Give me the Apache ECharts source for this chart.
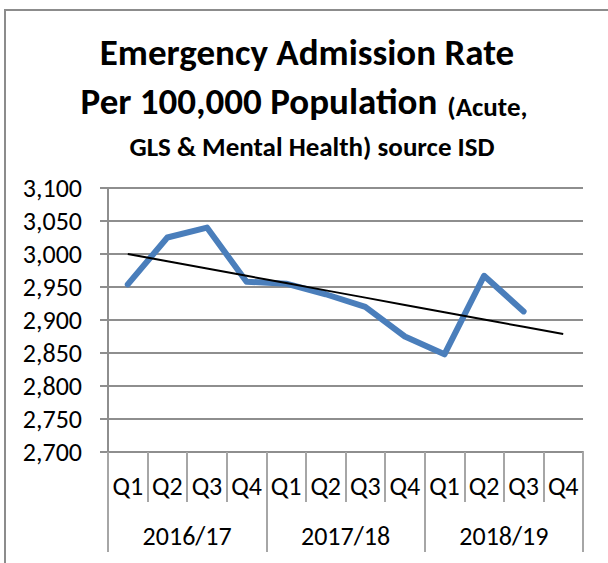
<!DOCTYPE html>
<html>
<head>
<meta charset="utf-8">
<script src="https://cdn.jsdelivr.net/npm/echarts@6/dist/echarts.min.js"></script>
<style>
  html, body { margin: 0; padding: 0; background: #fff; }
  #chart { width: 608px; height: 563px; }
</style>
</head>
<body>
<div id="chart"></div>
<script>
// data
var quarters = ['Q1', 'Q2', 'Q3', 'Q4', 'Q1', 'Q2', 'Q3', 'Q4', 'Q1', 'Q2', 'Q3', 'Q4'];
var years = ['2016/17', '2017/18', '2018/19'];
var rates = [2954, 3025, 3040, 2958, 2955, 2939, 2920, 2875, 2848, 2967, 2913, null];
var yMin = 2700, yMax = 3100, yStep = 50;

var font = "Carlito, 'Liberation Sans Narrow', 'Open Sans', sans-serif";
var gridColor = '#8e8e8e';
var tickColor = '#a6a6a6';

// linear trendline (least squares), like Excel's, over all categories
function linearTrend(values) {
  var n = 0, sx = 0, sy = 0, sxy = 0, sxx = 0;
  values.forEach(function (v, i) {
    if (v == null) return;
    n++; sx += i; sy += v; sxy += i * v; sxx += i * i;
  });
  var slope = (n * sxy - sx * sy) / (n * sxx - sx * sx);
  var icpt = (sy - slope * sx) / n;
  return values.map(function (v, i) { return +(icpt + slope * i).toFixed(1); });
}
var trend = linearTrend(rates);

var chart = echarts.init(document.getElementById('chart'), null, { renderer: 'svg' });

var option = {
  animation: false,
  backgroundColor: '#fff',
  graphic: [
    {
      type: 'rect', silent: true, z: -10,
      shape: { x: 5, y: 10, width: 700, height: 700 },
      style: { fill: 'none', stroke: '#8c8c8c', lineWidth: 2 }
    },
    {
      type: 'text', x: 307, y: 52,
      style: {
        text: 'Emergency Admission Rate',
        fontFamily: font, fontWeight: 'bold', fontSize: 37, fill: '#000',
        align: 'center', verticalAlign: 'middle'
      }
    },
    {
      type: 'text', x: 304, y: 100,
      style: {
        text: '{a|Per 100,000 Population}{b|(Acute,}',
        align: 'center', verticalAlign: 'middle',
        rich: {
          a: { fontFamily: font, fontWeight: 'bold', fontSize: 37, fill: '#000', align: 'center', verticalAlign: 'bottom', lineHeight: 40 },
          b: { fontFamily: font, fontWeight: 'bold', fontSize: 27, fill: '#000', align: 'center', verticalAlign: 'bottom', lineHeight: 31, padding: [0, 0, 0, 10] }
        }
      }
    },
    {
      type: 'text', x: 312, y: 146,
      style: {
        text: 'GLS & Mental Health) source ISD',
        fontFamily: font, fontWeight: 'bold', fontSize: 27, fill: '#000',
        align: 'center', verticalAlign: 'middle'
      }
    }
  ],
  grid: { left: 108, right: 25, top: 188, bottom: 111, containLabel: false, outerBoundsMode: 'none' },
  xAxis: [
    {
      type: 'category', data: quarters, position: 'bottom',
      axisLine: { show: true, onZero: false, lineStyle: { color: gridColor, width: 2 } },
      axisTick: { show: true, interval: 0, length: 50, lineStyle: { color: tickColor, width: 2 } },
      axisLabel: { show: true, interval: 0, margin: 21, fontSize: 26, fontFamily: font, color: '#000' }
    },
    {
      type: 'category', data: years, position: 'bottom',
      axisLine: { show: false, onZero: false },
      axisTick: { show: true, interval: 0, length: 100, lineStyle: { color: tickColor, width: 2 } },
      axisLabel: { show: true, interval: 0, margin: 71, fontSize: 26, fontFamily: font, color: '#000' }
    }
  ],
  yAxis: {
    type: 'value', min: yMin, max: yMax, interval: yStep,
    axisLine: { show: true, lineStyle: { color: gridColor, width: 2 } },
    axisTick: { show: true, length: 8, lineStyle: { color: gridColor, width: 2 } },
    splitLine: { show: true, lineStyle: { color: gridColor, width: 2 } },
    axisLabel: {
      margin: 26, fontSize: 26, fontFamily: font, color: '#000',
      formatter: function (v) { return v.toLocaleString('en-US'); }
    }
  },
  series: [
    {
      name: 'Rate', type: 'line', data: rates, symbol: 'none', z: 3,
      lineStyle: { color: '#4a7ebb', width: 6, cap: 'round', join: 'round' }
    },
    {
      name: 'Trend', type: 'line', data: trend, symbol: 'none', z: 4,
      lineStyle: { color: '#000', width: 2 }
    }
  ]
};

chart.setOption(option);
</script>
</body>
</html>
